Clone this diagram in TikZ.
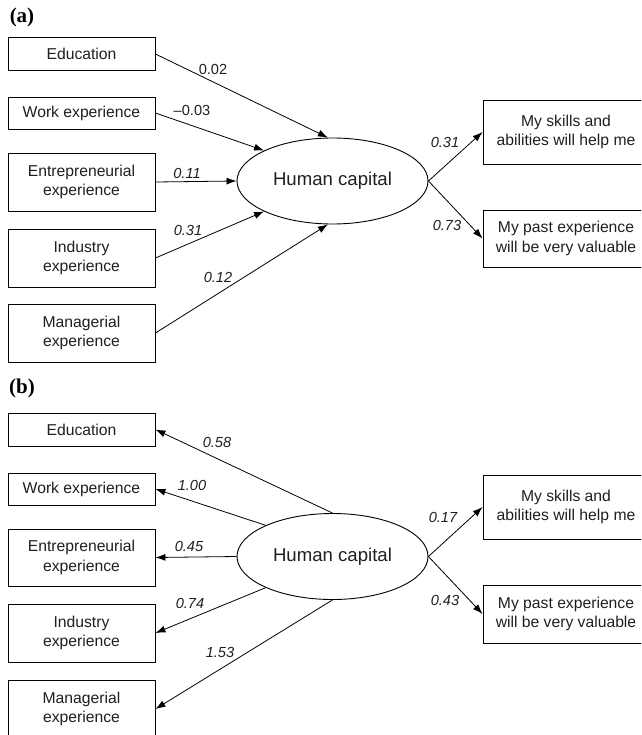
\documentclass[tikz,border=0pt]{standalone}
\usepackage{fontspec}
\setmainfont{Liberation Sans}
\newfontfamily\panelfont{Liberation Serif}
\usetikzlibrary{arrows.meta,shapes.geometric}
\begin{document}
\begin{tikzpicture}[x=1pt,y=-1pt,
  box/.style={draw, line width=0.9pt, minimum width=147pt, align=center,
    font=\fontsize{15.7}{19.5}\selectfont, inner sep=0pt, text=black!88},
  rbox/.style={box, minimum width=166pt},
  lat/.style={ellipse, draw, line width=0.9pt, minimum width=191pt, minimum height=86pt,
    inner sep=0pt, font=\fontsize{18.6}{22}\selectfont, text=black!88},
  conn/.style={-{Latex[length=10pt,width=7pt]}, line width=0.8pt},
  coef/.style={font=\fontsize{14.6}{17}\selectfont\itshape, inner sep=0pt, text=black!88},
  coefup/.style={font=\fontsize{14.6}{17}\selectfont, inner sep=0pt, text=black!88},
  panel/.style={font=\panelfont\bfseries\fontsize{21}{24}\selectfont, inner sep=0pt}]
\useasboundingbox (0,0) rectangle (641,735);
\clip (0,0) rectangle (641,735);

% ---------- panel (a) ----------
\node[panel] (pa) at (22,17) {(a)};
\node[box, minimum height=33.5pt] (aedu) at (81.5,54) {Education};
\node[box, minimum height=32pt] (awork) at (81.5,113) {Work experience};
\node[box, minimum height=58pt] (aent) at (81.5,182) {Entrepreneurial\\experience};
\node[box, minimum height=58pt] (aind) at (81.5,258) {Industry\\experience};
\node[box, minimum height=58pt] (aman) at (81.5,333) {Managerial\\experience};
\node[lat] (ahc) at (332.5,181) {Human capital};
\node[rbox, minimum height=64pt] (askill) at (566,132) {My skills and\\abilities will help me};
\node[rbox, minimum height=57pt] (apast) at (566,238.5) {My past experience\\will be very valuable};

\draw[conn] (aedu.east) -- (ahc.96);
\draw[conn] (awork.east) -- (ahc.156);
\draw[conn] (aent.east) -- (ahc.west);
\draw[conn] (aind.east) -- (ahc.204);
\draw[conn] (aman.east) -- (ahc.264);
\draw[conn] (ahc.east) -- (askill.west);
\draw[conn] (ahc.east) -- (apast.west);

\node[coefup] (la1) at (213,69) {0.02};
\node[coefup] (la2) at (192,110) {–0.03};
\node[coef] (la3) at (187,173) {0.11};
\node[coef] (la4) at (188,230) {0.31};
\node[coef] (la5) at (218,277) {0.12};
\node[coef] (la6) at (445,142) {0.31};
\node[coef] (la7) at (447,225) {0.73};

% ---------- panel (b) ----------
\node[panel] (pb) at (22,388) {(b)};
\node[box, minimum height=33pt] (bedu) at (81.5,429.5) {Education};
\node[box, minimum height=32pt] (bwork) at (81.5,489) {Work experience};
\node[box, minimum height=57pt] (bent) at (81.5,557.5) {Entrepreneurial\\experience};
\node[box, minimum height=58pt] (bind) at (81.5,633) {Industry\\experience};
\node[box, minimum height=58pt] (bman) at (81.5,709) {Managerial\\experience};
\node[lat] (bhc) at (332.5,556.5) {Human capital};
\node[rbox, minimum height=64pt] (bskill) at (566,507) {My skills and\\abilities will help me};
\node[rbox, minimum height=58pt] (bpast) at (566,614) {My past experience\\will be very valuable};

\draw[conn] (bhc.90) -- (bedu.east);
\draw[conn] (bhc.155) -- (bwork.east);
\draw[conn] (bhc.west) -- (bent.east);
\draw[conn] (bhc.205) -- (bind.east);
\draw[conn] (bhc.270) -- (bman.east);
\draw[conn] (bhc.east) -- (bskill.west);
\draw[conn] (bhc.east) -- (bpast.west);

\node[coef] (lb1) at (217,442) {0.58};
\node[coef] (lb2) at (192,485) {1.00};
\node[coef] (lb3) at (189,546) {0.45};
\node[coef] (lb4) at (190,603) {0.74};
\node[coef] (lb5) at (220,652) {1.53};
\node[coef] (lb6) at (443,517) {0.17};
\node[coef] (lb7) at (445,600) {0.43};
\end{tikzpicture}
\end{document}
